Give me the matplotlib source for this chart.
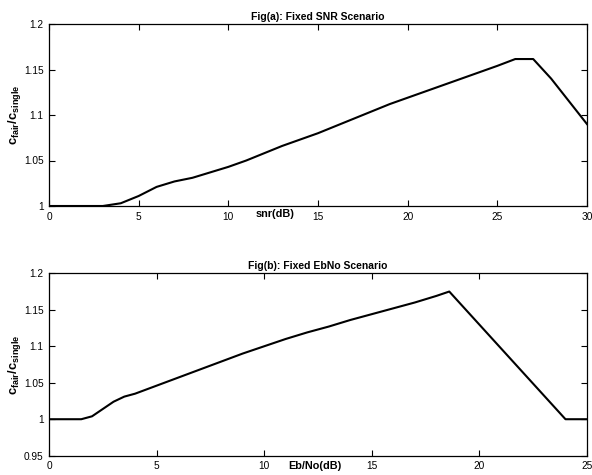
import numpy as np
import matplotlib
matplotlib.use('Agg')
import matplotlib.pyplot as plt

# フォント設定（MATLAB風の Helvetica に近い Liberation Sans）
plt.rcParams['font.family'] = ['Liberation Sans', 'DejaVu Sans']
plt.rcParams['mathtext.fontset'] = 'custom'
plt.rcParams['mathtext.rm'] = 'Liberation Sans'
plt.rcParams['mathtext.bf'] = 'Liberation Sans:bold'
plt.rcParams['mathtext.it'] = 'Liberation Sans:italic'

# Fig(a): Fixed SNR
snr_db = [0, 1, 2, 3, 4, 5, 6, 7, 8, 9, 10, 11, 12, 13, 14, 15,
          16, 17, 18, 19, 20, 21, 22, 23, 24, 25, 26, 27, 28, 29, 30]
ratio_a = [1.0, 1.0, 1.0, 1.0, 1.003, 1.011, 1.021, 1.027, 1.031, 1.037, 1.043,
           1.050, 1.058, 1.066, 1.073, 1.080, 1.088, 1.096, 1.104, 1.112, 1.119,
           1.126, 1.133, 1.140, 1.147, 1.154, 1.1615, 1.1615, 1.140, 1.115, 1.090]

# Fig(b): Fixed EbNo
ebno_db = [0, 1, 1.5, 2, 2.5, 3, 3.5, 4, 5, 6, 7, 8, 9, 10, 11, 12,
           13, 14, 15, 16, 17, 18, 18.6, 24, 25]
ratio_b = [1.0, 1.0, 1.0, 1.004, 1.014, 1.024, 1.031, 1.035, 1.046, 1.057, 1.068,
           1.079, 1.090, 1.100, 1.110, 1.119, 1.127, 1.136, 1.144, 1.152, 1.160,
           1.169, 1.175, 1.0, 1.0]

ylabel_text = r'$\mathbf{c_{fair}/c_{single}}$'


def style_axes(ax, xlim, ylim, xticks, yticks, yticklabels):
    ax.set_xlim(xlim)
    ax.set_ylim(ylim)
    ax.set_xticks(xticks)
    ax.set_yticks(yticks)
    ax.set_yticklabels(yticklabels)
    ax.tick_params(direction='in', top=True, right=True, length=4, width=0.8,
                   labelsize=7.3, pad=4)
    for sp in ax.spines.values():
        sp.set_linewidth(0.9)


fig = plt.figure(figsize=(5.92, 4.75), dpi=100)

# 上段
ax1 = fig.add_axes([49 / 592, (475 - 206) / 475, 538 / 592, 182 / 475])
ax1.plot(snr_db, ratio_a, color='black', lw=1.5)
style_axes(ax1, (0, 30), (1.0, 1.2), np.arange(0, 31, 5),
           [1.0, 1.05, 1.1, 1.15, 1.2], ['1', '1.05', '1.1', '1.15', '1.2'])
ax1.set_title('Fig(a): Fixed SNR Scenario', fontsize=7.5, fontweight='bold', pad=3)
ax1.set_xlabel('snr(dB)', fontsize=7.8, fontweight='bold')
ax1.xaxis.label.set_va('center')
ax1.xaxis.set_label_coords(0.42, -0.046)
ax1.set_ylabel(ylabel_text, fontsize=9.3)
ax1.yaxis.label.set_va('center')
ax1.yaxis.set_label_coords(-0.065, 0.5)

# 下段
ax2 = fig.add_axes([49 / 592, (475 - 455.7) / 475, 538 / 592, 182.4 / 475])
ax2.plot(ebno_db, ratio_b, color='black', lw=1.5)
style_axes(ax2, (0, 25), (0.95, 1.2), np.arange(0, 26, 5),
           [0.95, 1.0, 1.05, 1.1, 1.15, 1.2],
           ['0.95', '1', '1.05', '1.1', '1.15', '1.2'])
ax2.set_title('Fig(b): Fixed EbNo Scenario', fontsize=7.5, fontweight='bold', pad=3)
ax2.set_xlabel('Eb/No(dB)', fontsize=7.8, fontweight='bold')
ax2.xaxis.label.set_va('center')
ax2.xaxis.set_label_coords(0.494, -0.059)
ax2.set_ylabel(ylabel_text, fontsize=9.3)
ax2.yaxis.label.set_va('center')
ax2.yaxis.set_label_coords(-0.065, 0.5)

fig.savefig('out.png', dpi=100)
